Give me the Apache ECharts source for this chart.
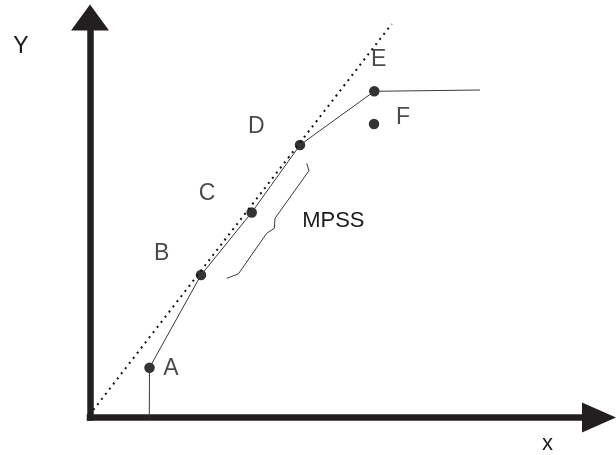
<!DOCTYPE html>
<html>
<head>
<meta charset="utf-8">
<script src="https://cdn.jsdelivr.net/npm/echarts@6/dist/echarts.min.js"></script>
<style>html,body{margin:0;padding:0;background:#fff}#c{width:616px;height:455px}</style>
</head>
<body>
<div id="c"></div>
<script>
// Named points
const pointNames = ['A', 'B', 'C', 'D', 'E', 'F'];
const pointX = [59.5, 111, 161.7, 210, 284.3, 284];
const pointY = [49.8, 142.5, 205, 272.5, 326.2, 293.5];

// Solid curve (foot of A on x axis, A..E, then plateau)
const curveX = [59.3, 59.5, 111, 161.7, 210, 284.3, 390];
const curveY = [0, 49.8, 142.5, 205, 272.5, 326.2, 327.5];

// Dotted tangent line through the origin region
const tangentX = [3.3, 301.7];
const tangentY = [7.5, 393.5];

// Brace marking the MPSS span
const braceX = [216.7, 219, 185, 184.3, 176.7, 148.3, 136.7];
const braceY = [254.2, 246.8, 199.2, 189.2, 184.2, 143.5, 139.2];
const braceLabel = 'MPSS';

const axisNames = { x: 'x', y: 'Y' };
const xMax = 509, yMax = 400;

const ink = '#1e1a1b';
const font = 'Liberation Sans, Arial, sans-serif';

// label offsets relative to each point (styling only)
const labelOffsets = [[21.5, 0.6], [-39.3, -21], [-44.7, -18.5], [-43.7, -18.3], [4.4, -31.3], [29, -6.5]];

const pointData = pointNames.map((n, i) => ({
  name: n,
  value: [pointX[i], pointY[i]],
  label: { offset: labelOffsets[i] }
}));

const braceData = braceX.map((x, i) => {
  const d = { value: [x, braceY[i]] };
  if (i === 3) d.label = { show: true, formatter: braceLabel, position: [59.5, -7], align: 'center', verticalAlign: 'middle' };
  return d;
});

const chart = echarts.init(document.getElementById('c'), null, { renderer: 'canvas' });
chart.setOption({
  animation: false,
  backgroundColor: '#fff',
  grid: { left: 90, right: 17, top: 17.5, bottom: 37.5, containLabel: false },
  xAxis: {
    type: 'value', min: 0, max: xMax,
    name: axisNames.x, nameLocation: 'end', nameGap: -51.5,
    nameTextStyle: { color: ink, fontFamily: font, fontSize: 22, align: 'center', verticalAlign: 'top', padding: [15, 0, 0, 0] },
    axisLine: { show: true, symbol: ['none', 'triangle'], symbolSize: [30, 34], lineStyle: { color: '#231f20', width: 6.5, cap: 'square' } },
    axisTick: { show: false }, axisLabel: { show: false }, splitLine: { show: false }
  },
  yAxis: {
    type: 'value', min: 0, max: yMax,
    name: axisNames.y, nameLocation: 'end', nameGap: -29,
    nameTextStyle: { color: ink, fontFamily: font, fontSize: 23, align: 'center', verticalAlign: 'middle', padding: [0, 138, 0, 0] },
    axisLine: { show: true, symbol: ['none', 'triangle'], symbolSize: [38, 26], lineStyle: { color: '#231f20', width: 6.5, cap: 'square' } },
    axisTick: { show: false }, axisLabel: { show: false }, splitLine: { show: false }
  },
  series: [
    {
      type: 'line', name: 'tangent', silent: true,
      data: tangentX.map((x, i) => [x, tangentY[i]]),
      showSymbol: false, symbol: 'none',
      lineStyle: { color: '#111', width: 2, type: [2, 4.5] }
    },
    {
      type: 'line', name: 'curve', silent: true,
      data: curveX.map((x, i) => [x, curveY[i]]),
      showSymbol: false, symbol: 'none',
      lineStyle: { color: '#3a3a3a', width: 1 }
    },
    {
      type: 'line', name: 'brace', silent: true,
      data: braceData,
      showSymbol: true, showAllSymbol: true, symbol: 'circle', symbolSize: 1,
      itemStyle: { color: 'rgba(0,0,0,0)', borderWidth: 0 },
      lineStyle: { color: '#3a3a3a', width: 1 },
      label: { show: false, color: ink, fontFamily: font, fontSize: 22 },
      labelLayout: { hideOverlap: false }
    },
    {
      type: 'scatter', name: 'points', silent: true,
      data: pointData,
      symbol: 'circle', symbolSize: 10.5,
      itemStyle: { color: '#000' },
      label: { show: true, position: 'inside', formatter: '{b}', color: ink, fontFamily: font, fontSize: 23 }
    }
  ]
});
</script>
</body>
</html>
